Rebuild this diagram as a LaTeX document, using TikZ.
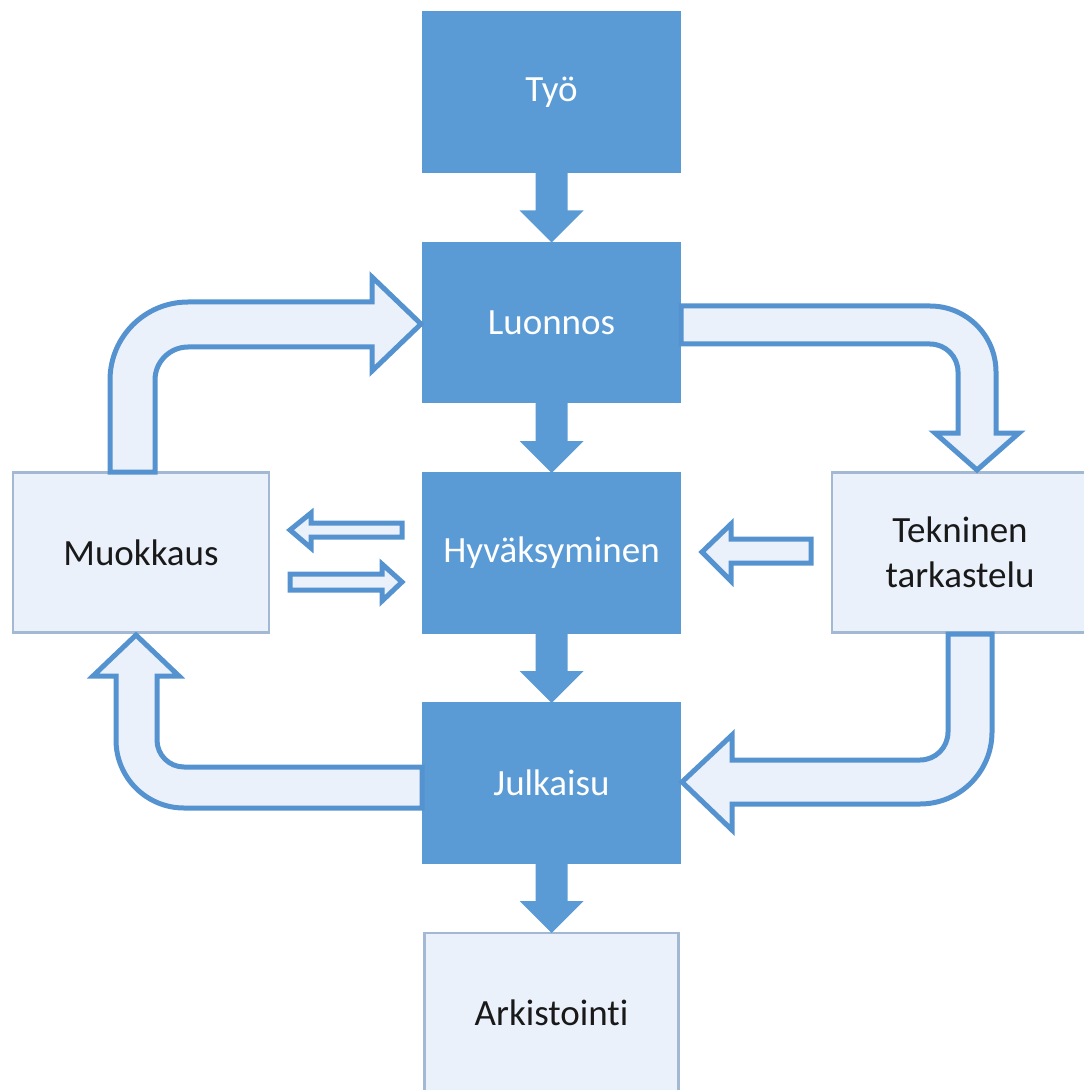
\documentclass[tikz,border=0pt]{standalone}
\usepackage{fontspec}
\setmainfont{Carlito}[Ligatures=NoCommon]
\usetikzlibrary{calc}
\definecolor{blueC}{HTML}{5B9BD5}
\definecolor{lightC}{HTML}{EAF1FA}
\definecolor{lineC}{HTML}{5593D0}
\definecolor{grayC}{HTML}{A3B8D3}
\newcommand\blockdown[2]{%
  \fill[blueC] ($(#1.south)+(-16,0)$) -- ($(#1.south)+(16,0)$) -- ($(#2.north)+(16,-32)$)
    -- ($(#2.north)+(32,-32)$) -- (#2.north) -- ($(#2.north)+(-32,-32)$)
    -- ($(#2.north)+(-16,-32)$) -- cycle;}
\begin{document}
\begin{tikzpicture}[x=0.5pt,y=-0.5pt,
  box/.style={minimum width=128.5pt, minimum height=80pt, inner sep=0pt, outer sep=0pt,
    font=\fontsize{18.5}{22.5}\selectfont, align=center},
  bluebox/.style={box, fill=blueC, draw=blueC, line width=0.8pt, text=white},
  lightbox/.style={box, fill=lightC, draw=grayC, line width=1.2pt, text=black!90},
  hollow/.style={fill=lightC, draw=lineC, line width=2.5pt, line join=miter}]
\useasboundingbox (0,0) rectangle (1083,1090);

% nodes
\node[bluebox] (tyo) at (551.5,92) {Työ};
\node[bluebox] (luonnos) at (551.5,322.5) {Luonnos};
\node[bluebox] (hyv) at (551.5,553) {Hyväksyminen};
\node[bluebox] (julk) at (551.5,783) {Julkaisu};
\node[lightbox, minimum width=127pt] (ark) at (551.5,1013) {Arkistoint\kern0pt i};
\node[lightbox, minimum width=128pt] (muok) at (141,552.5) {Muokkaus};
\node[lightbox, minimum width=128pt] (tek) at (960,552.5) {Tekninen\\tarkastelu};

% solid down arrows
\blockdown{tyo}{luonnos}
\blockdown{luonnos}{hyv}
\blockdown{hyv}{julk}
\blockdown{julk}{ark}

% Muokkaus -> Luonnos
\draw[hollow] (110,472) -- (110,380) .. controls (110,336.9) and (144.9,302) .. (188,302)
  -- (372,302) -- (372,277) -- (421,324) -- (372,371) -- (372,347) -- (188,347)
  .. controls (169.8,347) and (155,361.8) .. (155,380) -- (155,472) -- cycle;

% Luonnos -> Tekninen tarkastelu
\draw[hollow] (681,306) -- (930,306) .. controls (966.5,306) and (996,335.5) .. (996,372)
  -- (996,433) -- (1019,433) -- (977,470) -- (935,433) -- (958,433) -- (958,372)
  .. controls (958,356.5) and (945.5,344) .. (930,344) -- (681,344) -- cycle;

% Tekninen tarkastelu -> Julkaisu
\draw[hollow] (948,634) -- (948,732) .. controls (948,747.5) and (935.5,760) .. (920,760)
  -- (732,760) -- (732,735) -- (682,782) -- (732,830) -- (732,804) -- (920,804)
  .. controls (959.8,804) and (992,771.8) .. (992,732) -- (992,634) -- cycle;

% Julkaisu -> Muokkaus
\draw[hollow] (422,767) -- (184,767) .. controls (169.1,767) and (157,754.9) .. (157,740)
  -- (157,676) -- (179,676) -- (136,635) -- (93,676) -- (116,676) -- (116,740)
  .. controls (116,777.6) and (146.4,808) .. (184,808) -- (422,808) -- cycle;

% small arrows
\draw[hollow] (402,523) -- (311,523) -- (311,513) -- (290,530) -- (311,548) -- (311,537) -- (402,537) -- cycle;
\draw[hollow] (290,574) -- (382,574) -- (382,564) -- (402,582) -- (382,601) -- (382,590) -- (290,590) -- cycle;
\draw[hollow] (811,539) -- (731,539) -- (731,524) -- (702,552) -- (731,581) -- (731,563) -- (811,563) -- cycle;
\end{tikzpicture}
\end{document}
